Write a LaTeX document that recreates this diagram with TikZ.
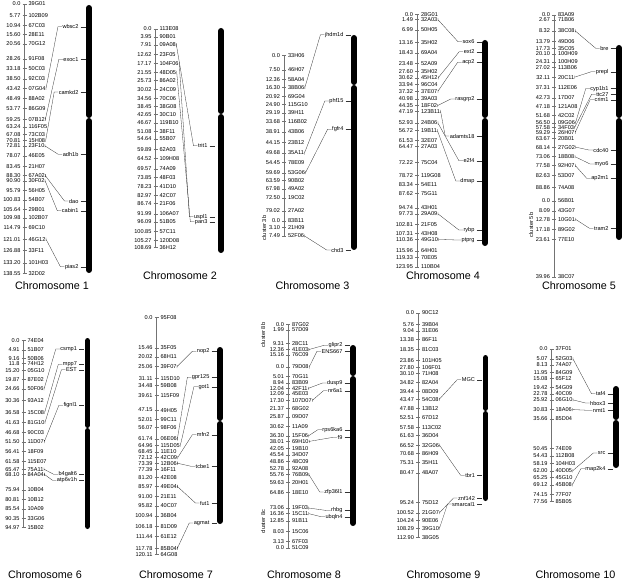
\documentclass[tikz,border=0pt]{standalone}
\usepackage{fontspec}
\setmainfont{Liberation Sans}
\usetikzlibrary{calc}

\begin{document}
\begin{tikzpicture}[x=1pt,y=-1pt,
    mtext/.style={inner sep=0.4pt,font=\fontsize{5.6}{6}\selectfont},
    num/.style={mtext,anchor=east},
    mk/.style={mtext,anchor=west},
    gene/.style={mtext,anchor=east},
    axis/.style={draw=black!55,line width=0.35pt},
    lnk/.style={draw=black!80,line width=0.3pt},
    chrom/.style={line width=5.8pt,line cap=round},
    ttl/.style={font=\fontsize{10.8}{12}\selectfont},
    clus/.style={mtext,rotate=90}]
  \useasboundingbox (0,0) rectangle (623,580);

  % ---------------- chromosome 1
  \draw[axis] (24.5,4) -- (24.5,273.3);
  \foreach \pos/\mrk in {0.0/39G01,5.77/102B09,10.94/67C03,15.60/28E11,20.56/70G12,
      28.26/91F08,33.18/50C03,38.50/92C03,43.42/07G04,48.49/88A02,53.77/86G09,
      59.25/07B12,63.24/116F05,67.08/73C03,78.07/46E05,
      83.45/21H07,88.30/67A02,90.90/30F02,95.79/56H05,100.83/54B07,105.64/29B01,
      109.98/102B07,114.79/69C10,121.01/46G12,126.88/33F11,133.20/101H03,138.55/32D02}{
    \draw[axis] (22.5,{4+1.944*\pos}) -- (26.5,{4+1.944*\pos});
    \node[num] at (21,{4+1.944*\pos}) {\pos};
    \node[mk] (c1-\mrk) at (28,{4+1.944*\pos}) {\mrk};
  }
  \foreach \yy/\pos/\mrk in {140.3/70.81/15H08,146/72.81/23F10}{
    \draw[axis] (22.5,\yy) -- (26.5,\yy);
    \node[num] at (21,\yy) {\pos};
    \node[mk] (c1-\mrk) at (28,\yy) {\mrk};
  }
  \foreach \g/\gy in {wbsc2/26.7,exoc1/59.3,camkd2/92,adh1b/154.3,dao/201,cabin1/210.7,pias2/266.7}{
    \node[gene] (\g) at (79,\gy) {\g};
    \draw[lnk] ([xshift=1.5pt]\g.east) -- ++(5,0);
  }
  \foreach \m/\g in {c1-07G04/wbsc2,c1-07B12/exoc1,c1-15H08/camkd2,c1-23F10/adh1b,
      c1-67A02/dao,c1-30F02/cabin1,c1-46G12/pias2}
    \draw[lnk] ([yshift=1.5pt]\m.east) -- ([yshift=-1.5pt]\m.east)
      (\m.east) -- ([xshift=-4pt]\g.west) -- (\g.west);

  % ---------------- chromosome 2
  \draw[axis] (155.5,29) -- (155.5,247.3);
  \foreach \pos/\mrk in {0.0/113E08,3.95/90B01,7.91/09A08,12.62/23F05,17.17/104F06,
      21.55/48D05,25.73/86A02,30.02/24C09,34.56/70C06,38.45/38G08,42.65/30C10,
      46.67/119B10,51.08/38F11,54.64/55B07,59.89/62A03,64.52/109H08,69.57/74A09,
      73.85/48F03,78.23/41D10,82.97/42C07,86.74/21F06,91.99/106A07,96.09/51B05,
      100.85/57C11,105.27/120D08,108.69/36H12}{
    \draw[axis] (153.5,{29+2.008*\pos}) -- (157.5,{29+2.008*\pos});
    \node[num] at (152,{29+2.008*\pos}) {\pos};
    \node[mk] (c2-\mrk) at (159,{29+2.008*\pos}) {\mrk};
  }
  \foreach \g/\gy in {trit1/145.7,uspl1/216.8,pan3/221.8}{
    \node[gene] (\g) at (208,\gy) {\g};
    \draw[lnk] ([xshift=1.5pt]\g.east) -- ++(5,0);
  }
  \foreach \m/\g in {c2-09A08/trit1,c2-104F06/uspl1,c2-48D05/pan3}
    \draw[lnk] ([yshift=1.5pt]\m.east) -- ([yshift=-1.5pt]\m.east)
      (\m.east) -- ([xshift=-4pt]\g.west) -- (\g.west);

  % ---------------- chromosome 3
  \draw[axis] (284,55.3) -- (284,236);
  \foreach \pos/\mrk in {0.0/33H06,7.50/46H07,12.36/58A04,16.30/38B06,20.92/69G04,
      24.90/115G10,29.19/39H11,33.68/116B02,38.91/43B06,44.15/23B12,49.68/35A11,
      54.45/78E09,59.69/53G06,63.59/90B02,67.98/49A02,72.50/19C02,79.02/27A02}{
    \draw[axis] (282,{55.3+1.967*\pos}) -- (286,{55.3+1.967*\pos});
    \node[num] at (280.5,{55.3+1.967*\pos}) {\pos};
    \node[mk] (c3-\mrk) at (287.5,{55.3+1.967*\pos}) {\mrk};
  }
  \foreach \pos/\mrk in {0.0/83B11,3.10/21H09,7.49/52F06}{
    \draw[axis] (282,{221+2*\pos}) -- (286,{221+2*\pos});
    \node[num] at (280.5,{221+2*\pos}) {\pos};
    \node[mk] (c3-\mrk) at (287.5,{221+2*\pos}) {\mrk};
  }
  \node[clus] (cl3b) at (264,228) {cluster 3b};
  \foreach \g/\gy in {jhdm1d/34.7,phf15/101,fgfr4/129.3,chd3/250}{
    \node[gene] (\g) at (344,\gy) {\g};
    \draw[lnk] ([xshift=1.5pt]\g.east) -- ++(5,0);
  }
  \foreach \m/\g in {c3-38B06/jhdm1d,c3-35A11/phf15,c3-53G06/fgfr4,c3-52F06/chd3}
    \draw[lnk] ([yshift=1.5pt]\m.east) -- ([yshift=-1.5pt]\m.east)
      (\m.east) -- ([xshift=-4pt]\g.west) -- (\g.west);

  % ---------------- chromosome 4
  \draw[axis] (417,14.3) -- (417,267);
  \foreach \pos/\mrk in {6.99/50H05,13.16/35H02,18.43/69A04,
      23.48/52A09,27.60/35H02,30.62/45H12,33.94/96C04,37.32/37E07,40.98/39A03,
      44.35/18F02,47.19/123B11,52.93/24B06,56.72/19B11,61.53/32E07,64.47/27A03,
      72.22/75C04,78.72/119G08,83.34/54E11,87.62/75G11,94.74/43H01,97.73/29A09,
      102.81/21F05,107.31/43H08,110.36/49G10,115.96/64H01,119.33/70E05,123.95/110B04}{
    \draw[axis] (415,{15.7+2.027*\pos}) -- (419,{15.7+2.027*\pos});
    \node[num] at (413.5,{15.7+2.027*\pos}) {\pos};
    \node[mk] (c4-\mrk) at (420.5,{15.7+2.027*\pos}) {\mrk};
  }
  \foreach \yy/\pos/\mrk in {14.3/0.0/28G01,19.6/1.49/32A03}{
    \draw[axis] (415,\yy) -- (419,\yy);
    \node[num] at (413.5,\yy) {\pos};
    \node[mk] (c4-\mrk) at (420.5,\yy) {\mrk};
  }
  \foreach \g/\gy in {sox6/41.7,ext2/51.7,acp2/62.3,rasgrp2/99,adamts18/136,
      e2f4/160.7,dmap/181,rybp/230,ptprg/240}{
    \node[gene] (\g) at (475,\gy) {\g};
    \draw[lnk] ([xshift=1.5pt]\g.east) -- ++(5,0);
  }
  \foreach \m/\g in {c4-32A03/sox6,c4-45H12/ext2,c4-37E07/acp2,c4-18F02/rasgrp2,
      c4-123B11/adamts18,c4-24B06/e2f4,c4-19B11/dmap,c4-29A09/rybp,c4-49G10/ptprg}
    \draw[lnk] ([yshift=1.5pt]\m.east) -- ([yshift=-1.5pt]\m.east)
      (\m.east) -- ([xshift=-4pt]\g.west) -- (\g.west);

  % ---------------- chromosome 5
  \draw[axis] (554,14.7) -- (554,277);
  \foreach \pos/\mrk in {0.0/83A09,2.67/71B06,8.32/38C08,13.79/49D06,
      24.31/100H09,27.02/113B06,32.11/20C11,37.31/112E06,42.73/17D07,
      47.18/121A08,51.68/42C02,68.14/27G02,73.06/18B08,77.58/92H07,82.63/53D07,
      88.86/74A08}{
    \draw[axis] (552,{14.7+1.943*\pos}) -- (556,{14.7+1.943*\pos});
    \node[num] at (550.5,{14.7+1.943*\pos}) {\pos};
    \node[mk] (c5-\mrk) at (557.5,{14.7+1.943*\pos}) {\mrk};
  }
  % crowded rows and cluster 5b
  \foreach \yy/\pos/\mrk in {48.6/17.73/35C05,54/20.10/100H09,
      122.8/56.50/09G06,127.6/57.58/34F03,132.4/59.29/26H07,
      138.6/63.67/20B01,201/0.0/56B01,210.7/8.09/43G07,219.3/12.78/10G01,
      229.3/17.18/89G02,239.3/23.61/77E10,277/39.96/38C07}{
    \draw[axis] (552,\yy) -- (556,\yy);
    \node[num] at (550.5,\yy) {\pos};
    \node[mk] (c5-\mrk) at (557.5,\yy) {\mrk};
  }
  \node[clus] (cl5b) at (531,225) {cluster 5b};
  \foreach \g/\gy in {bre/48.3,prepl/71.7,cyp1b1/88.6,ttc27/94.2,crim1/99.8,
      cdc40/150,myo6/164,ap2m1/178.3,tram2/228.3}{
    \node[gene] (\g) at (609,\gy) {\g};
    \draw[lnk] ([xshift=1.5pt]\g.east) -- ++(5,0);
  }
  \foreach \m/\g in {c5-38C08/bre,c5-20C11/prepl,c5-09G06/cyp1b1,c5-34F03/ttc27,
      c5-26H07/crim1,c5-27G02/cdc40,c5-18B08/myo6,c5-92H07/ap2m1,c5-10G01/tram2}
    \draw[lnk] ([yshift=1.5pt]\m.east) -- ([yshift=-1.5pt]\m.east)
      (\m.east) -- ([xshift=-4pt]\g.west) -- (\g.west);

  % ---------------- chromosome 6
  \draw[axis] (23.5,340.3) -- (23.5,527.3);
  \foreach \pos/\mrk in {0.0/74E04,4.91/51B07,9.16/50B06,11.8/74H12,15.20/05G10,
      19.87/87E02,24.66/50F06,30.36/93A12,36.58/15C08,41.63/81G10,46.68/90C03,
      51.50/11D07,56.41/18F09,61.58/115E07,65.47/75A11,68.10/84A04,75.94/10B04,
      80.81/10B12,85.54/10A09,90.35/33G06,94.97/15B02}{
    \draw[axis] (21.5,{340.3+1.969*\pos}) -- (25.5,{340.3+1.969*\pos});
    \node[num] at (20,{340.3+1.969*\pos}) {\pos};
    \node[mk] (c6-\mrk) at (27,{340.3+1.969*\pos}) {\mrk};
  }
  \foreach \g/\gy in {csmp1/349,mpp7/364.4,EST/369.8,fignl1/405.3,b4galt6/474.4,atp6v1h/480.2}{
    \node[gene] (\g) at (77.5,\gy) {\g};
    \draw[lnk] ([xshift=1.5pt]\g.east) -- ++(5,0);
  }
  \foreach \m/\g in {c6-50F06/csmp1,c6-15C08/mpp7,c6-81G10/EST,c6-11D07/fignl1,
      c6-75A11/b4galt6,c6-84A04/atp6v1h}
    \draw[lnk] ([yshift=1.5pt]\m.east) -- ([yshift=-1.5pt]\m.east)
      (\m.east) -- ([xshift=-4pt]\g.west) -- (\g.west);

  % ---------------- chromosome 7
  \draw[axis] (156.5,317.3) -- (156.5,554.5);
  \foreach \pos/\mrk in {0.0/95F08,15.46/35F05,20.02/68H11,25.06/39F07,31.11/115D10,
      34.48/59B08,39.61/115F09,47.15/49H05,52.01/99C11,56.07/98F06,61.74/06E06,
      64.96/115D05,68.45/11E10,77.39/16F11,81.20/42E08,
      85.97/49E04,91.00/21E11,95.82/40C07,100.94/36B04,106.18/81D09,111.44/61E12}{
    \draw[axis] (154.5,{317.3+1.968*\pos}) -- (158.5,{317.3+1.968*\pos});
    \node[num] at (153,{317.3+1.968*\pos}) {\pos};
    \node[mk] (c7-\mrk) at (160,{317.3+1.968*\pos}) {\mrk};
  }
  \foreach \yy/\pos/\mrk in {457.6/72.12/42C09,463.2/73.39/12B06,
      548.2/117.78/85B04,554.5/120.11/64G08}{
    \draw[axis] (154.5,\yy) -- (158.5,\yy);
    \node[num] at (153,\yy) {\pos};
    \node[mk] (c7-\mrk) at (160,\yy) {\mrk};
  }
  \foreach \g/\gy in {nop2/351.3,gpr125/377.3,got1/386.7,mfn2/434.7,tcbe1/466.3,
      fut1/503,agmat/523}{
    \node[gene] (\g) at (210,\gy) {\g};
    \draw[lnk] ([xshift=1.5pt]\g.east) -- ++(5,0);
  }
  \foreach \m/\g in {c7-39F07/nop2,c7-06E06/gpr125,c7-115D05/got1,c7-42C09/mfn2,
      c7-12B06/tcbe1,c7-49E04/fut1,c7-85B04/agmat}
    \draw[lnk] ([yshift=1.5pt]\m.east) -- ([yshift=-1.5pt]\m.east)
      (\m.east) -- ([xshift=-4pt]\g.west) -- (\g.west);

  % ---------------- chromosome 8
  \draw[axis] (288,324.5) -- (288,548);
  \foreach \pos/\mrk in {9.31/28C11,12.36/41E03,15.16/76C09}{
    \draw[axis] (286,{325.7+1.93*\pos}) -- (290,{325.7+1.93*\pos});
    \node[num] at (284.5,{325.7+1.93*\pos}) {\pos};
    \node[mk] (c8-\mrk) at (291.5,{325.7+1.93*\pos}) {\mrk};
  }
  \foreach \pos/\mrk in {0.0/79D08,5.01/70G11,17.30/107D07,21.37/68G02,
      25.87/09D07,30.62/11A09,42.05/19B10,45.54/34D07,
      48.86/48C09,52.78/92A08,55.76/76B09,59.63/20H01,64.86/18E10,73.06/19F03}{
    \draw[axis] (286,{367+1.93*\pos}) -- (290,{367+1.93*\pos});
    \node[num] at (284.5,{367+1.93*\pos}) {\pos};
    \node[mk] (c8-\mrk) at (291.5,{367+1.93*\pos}) {\mrk};
  }
  \foreach \pos/\mrk in {16.36/15C11,12.85/91B11,8.03/15C06,3.13/67F03,0.0/51C09}{
    \draw[axis] (286,{548-2.1*\pos}) -- (290,{548-2.1*\pos});
    \node[num] at (284.5,{548-2.1*\pos}) {\pos};
    \node[mk] (c8-\mrk) at (291.5,{548-2.1*\pos}) {\mrk};
  }
  % crowded rows
  \foreach \yy/\pos/\mrk in {324.5/0.0/87G02,330/1.99/57D09,382.8/8.94/83B09,
      388.4/12.04/42F11,394/12.09/45E03,435.8/36.30/15F06,441.4/38.01/69H10}{
    \draw[axis] (286,\yy) -- (290,\yy);
    \node[num] at (284.5,\yy) {\pos};
    \node[mk] (c8-\mrk) at (291.5,\yy) {\mrk};
  }
  \node[clus] (cl8b) at (263,335) {cluster 8b};
  \node[clus] (cl8c) at (263,522) {cluster 8c};
  \foreach \g/\gy in {glipr2/345.3,ENS667/351.3,dusp9/383,nr6a1/390.7,rps6ka6/429.7,
      f9/437.3,zfp36l1/492,rhbg/510.5,ubqln4/516.7}{
    \node[gene] (\g) at (343,\gy) {\g};
    \draw[lnk] ([xshift=1.5pt]\g.east) -- ++(5,0);
  }
  \foreach \m/\g in {c8-41E03/glipr2,c8-79D08/ENS667,c8-42F11/dusp9,c8-107D07/nr6a1,
      c8-15F06/rps6ka6,c8-69H10/f9,c8-76B09/zfp36l1,c8-19F03/rhbg,c8-15C11/ubqln4}
    \draw[lnk] ([yshift=1.5pt]\m.east) -- ([yshift=-1.5pt]\m.east)
      (\m.east) -- ([xshift=-4pt]\g.west) -- (\g.west);

  % ---------------- chromosome 9
  \draw[axis] (418,313) -- (418,537.3);
  \foreach \pos/\mrk in {0.0/90C12,5.76/39B04,9.04/31E06,13.38/86F11,18.35/81C03,
      23.86/101H05,34.82/82A04,39.44/08D09,43.47/54C08,
      47.88/13B12,52.51/67D12,57.58/113C02,61.63/36D04,66.52/32G06,70.68/86H09,
      75.31/35H11,80.47/48A07,95.24/75D12,100.52/21G07,104.24/90E06,108.29/39G10,
      112.90/38G05}{
    \draw[axis] (416,{313+1.987*\pos}) -- (420,{313+1.987*\pos});
    \node[num] at (414.5,{313+1.987*\pos}) {\pos};
    \node[mk] (c9-\mrk) at (421.5,{313+1.987*\pos}) {\mrk};
  }
  \foreach \yy/\pos/\mrk in {367.6/27.80/106F01,373.2/30.10/71H08}{
    \draw[axis] (416,\yy) -- (420,\yy);
    \node[num] at (414.5,\yy) {\pos};
    \node[mk] (c9-\mrk) at (421.5,\yy) {\mrk};
  }
  \foreach \g/\gy in {MGC/379.7,tbr1/475.3,znf142/498,smarcal1/504}{
    \node[gene] (\g) at (475.5,\gy) {\g};
    \draw[lnk] ([xshift=1.5pt]\g.east) -- ++(5,0);
  }
  \foreach \m/\g in {c9-54C08/MGC,c9-32G06/tbr1,c9-21G07/znf142,c9-39G10/smarcal1}
    \draw[lnk] ([yshift=1.5pt]\m.east) -- ([yshift=-1.5pt]\m.east)
      (\m.east) -- ([xshift=-4pt]\g.west) -- (\g.west);

  % ---------------- chromosome 10
  \draw[axis] (551.5,349) -- (551.5,501.3);
  \foreach \pos/\mrk in {0.0/37F01,5.07/52G03,8.13/74A07,11.95/84G09,15.08/65F12,
      19.42/54G09,22.78/40C09,25.92/06G10,30.83/18A06,35.66/85D04,50.45/74E09,
      54.43/112B08,58.19/104H03,62.00/40D05,65.25/45G10,69.12/45B08,74.15/77F07,
      77.56/85B05}{
    \draw[axis] (549.5,{349+1.964*\pos}) -- (553.5,{349+1.964*\pos});
    \node[num] at (548,{349+1.964*\pos}) {\pos};
    \node[mk] (c10-\mrk) at (555,{349+1.964*\pos}) {\mrk};
  }
  \foreach \g/\gy in {taf4/393.7,hbox3/403,nmt1/410.3,src/453,map2k4/468.7}{
    \node[gene] (\g) at (606,\gy) {\g};
    \draw[lnk] ([xshift=1.5pt]\g.east) -- ++(5,0);
  }
  \foreach \m/\g in {c10-52G03/taf4,c10-06G10/hbox3,c10-18A06/nmt1,c10-40D05/src,
      c10-45B08/map2k4}
    \draw[lnk] ([yshift=1.5pt]\m.east) -- ([yshift=-1.5pt]\m.east)
      (\m.east) -- ([xshift=-4pt]\g.west) -- (\g.west);

  % chromosome bars: x / top / bottom / centromere
  \foreach \bx/\bt/\bb/\bc in {89/5/273/118,221/28/253/114,354/35/250/85,
      485/40/246/118,619/45/240/118,87.5/338/529/428,220/347/524/421,
      353/345/526/376,485.5/355/501/411,616/386/468/420}{
    \draw[chrom] (\bx,{\bt+2.9}) -- (\bx,{\bc-2.9});
    \draw[chrom] (\bx,{\bc+2.9}) -- (\bx,{\bb-2.9});
  }

  % titles
  \node[ttl] (t1) at (52,285.7) {Chromosome 1};
  \node[ttl] (t2) at (180,275.7) {Chromosome 2};
  \node[ttl] (t3) at (312.5,285.7) {Chromosome 3};
  \node[ttl] (t4) at (443,275.7) {Chromosome 4};
  \node[ttl] (t5) at (579,285.7) {Chromosome 5};
  \node[ttl] (t6) at (45,574.7) {Chromosome 6};
  \node[ttl] (t7) at (176,574.7) {Chromosome 7};
  \node[ttl] (t8) at (304,574.7) {Chromosome 8};
  \node[ttl] (t9) at (443.5,574.7) {Chromosome 9};
  \node[ttl] (t10) at (575.5,574.7) {Chromosome 10};
\end{tikzpicture}
\end{document}
